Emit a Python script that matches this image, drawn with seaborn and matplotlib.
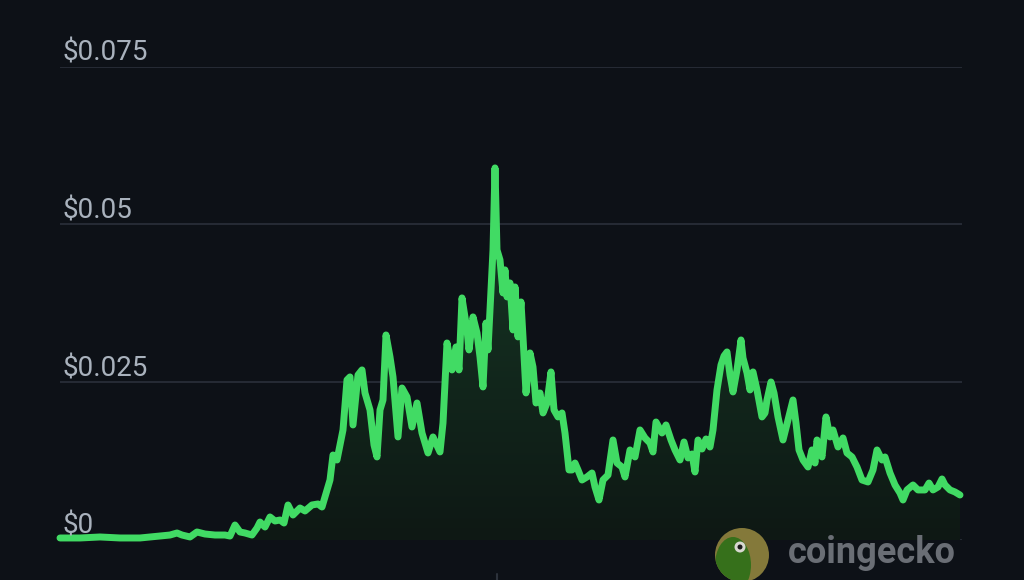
import numpy as np
import pandas as pd
import matplotlib
matplotlib.use("Agg")
import matplotlib.pyplot as plt
import seaborn as sns
from matplotlib.colors import LinearSegmentedColormap
from matplotlib.patches import Ellipse, Polygon
from matplotlib.lines import Line2D

# day index since listing, price in USD
days = [0, 40, 80, 120, 160, 180, 200, 220, 234, 244, 260, 274, 290, 310, 330, 340,
        350, 360, 370, 384, 394, 400, 410, 420, 430, 440, 448, 456, 466, 480, 490, 504,
        516, 524, 530, 540, 546, 554, 560, 566, 574, 580, 586, 596, 604, 610, 620, 628,
        634, 640, 646, 652, 660, 666, 676, 684, 694, 704, 714, 724, 736, 746, 760, 766,
        774, 784, 792, 798, 804, 814, 818, 826, 834, 840, 846, 852, 856, 862, 866, 870,
        874, 880, 886, 890, 894, 900, 906, 910, 916, 922, 926, 932, 940, 946, 952, 960,
        966, 974, 982, 988, 996, 1004, 1010, 1018, 1024, 1030, 1036, 1044, 1054, 1064,
        1070, 1078, 1086, 1096, 1106, 1114, 1124, 1130, 1140, 1150, 1160, 1170, 1180,
        1186, 1192, 1204, 1212, 1222, 1230, 1240, 1248, 1256, 1264, 1270, 1276, 1284,
        1292, 1300, 1306, 1314, 1322, 1328, 1334, 1340, 1346, 1354, 1362, 1366, 1374,
        1380, 1386, 1394, 1404, 1410, 1414, 1422, 1428, 1436, 1446, 1456, 1466, 1472,
        1478, 1486, 1496, 1504, 1510, 1514, 1524, 1532, 1540, 1546, 1556, 1566, 1574,
        1584, 1594, 1604, 1616, 1626, 1634, 1644, 1650, 1660, 1670, 1680, 1686, 1694,
        1706, 1716, 1730, 1738, 1746, 1756, 1764, 1770, 1780, 1790, 1800]

prices = [0.00032, 0.00032, 0.00048, 0.00032, 0.00032, 0.00048, 0.00063, 0.00079,
          0.00111, 0.00079, 0.00048, 0.00127, 0.00095, 0.00079, 0.00079, 0.00063,
          0.00238, 0.00127, 0.00111, 0.00079, 0.00190, 0.00285, 0.00206, 0.00365,
          0.00301, 0.00317, 0.00269, 0.00555, 0.00396, 0.00507, 0.00460, 0.00555,
          0.00571, 0.00523, 0.00682, 0.00951, 0.01347, 0.01268, 0.01506, 0.01744,
          0.02536, 0.02584, 0.01823, 0.02615, 0.02695, 0.02330, 0.02061, 0.01506,
          0.01316, 0.02061, 0.02219, 0.03249, 0.02901, 0.02584, 0.01633, 0.02409,
          0.02267, 0.01791, 0.02171, 0.01696, 0.01379, 0.01633, 0.01395, 0.01854,
          0.03122, 0.02695, 0.03059, 0.02695, 0.03836, 0.03329, 0.03012, 0.03535,
          0.03281, 0.02901, 0.02425, 0.03439, 0.03012, 0.03963, 0.04597, 0.05896,
          0.04597, 0.04438, 0.03915, 0.04280, 0.03852, 0.04073, 0.03329, 0.04010,
          0.03218, 0.03772, 0.03218, 0.02330, 0.02964, 0.02742, 0.02171, 0.02330,
          0.02013, 0.02171, 0.02663, 0.02061, 0.01950, 0.02013, 0.01696, 0.01110,
          0.01110, 0.01220, 0.01110, 0.00951, 0.00999, 0.01062, 0.00840, 0.00634,
          0.00951, 0.01030, 0.01585, 0.01220, 0.01157, 0.00999, 0.01427, 0.01316,
          0.01744, 0.01617, 0.01537, 0.01395, 0.01870, 0.01696, 0.01823, 0.01585,
          0.01427, 0.01268, 0.01553, 0.01300, 0.01363, 0.01078, 0.01585, 0.01442,
          0.01601, 0.01474, 0.01744, 0.02378, 0.02774, 0.02916, 0.02980, 0.02615,
          0.02346, 0.02695, 0.03170, 0.02885, 0.02647, 0.02378, 0.02663, 0.02378,
          0.01950, 0.02013, 0.02219, 0.02504, 0.02330, 0.01950, 0.01585, 0.01902,
          0.02219, 0.01854, 0.01427, 0.01268, 0.01157, 0.01427, 0.01220, 0.01585,
          0.01316, 0.01950, 0.01633, 0.01744, 0.01474, 0.01617, 0.01379, 0.01316,
          0.01157, 0.00951, 0.00919, 0.01110, 0.01427, 0.01268, 0.01316, 0.01062,
          0.00872, 0.00745, 0.00634, 0.00793, 0.00872, 0.00793, 0.00793, 0.00903,
          0.00793, 0.00840, 0.00967, 0.00872, 0.00793, 0.00761, 0.00713]

y_ticks = [0, 0.025, 0.05, 0.075]
y_labels = ["$0", "$0.025", "$0.05", "$0.075"]

BG = "#0d1117"
GRID = "#262b35"
LINE = "#41db64"
LABEL = "#a9b2bd"

sns.set_theme(style="dark", rc={
    "figure.facecolor": BG,
    "axes.facecolor": BG,
    "savefig.facecolor": BG,
})
plt.rcParams["font.family"] = ["Roboto", "DejaVu Sans"]

df = pd.DataFrame({"day": days, "price": prices})

fig = plt.figure(figsize=(10.24, 5.8), dpi=100)
ax = fig.add_axes([60 / 1024, 40 / 580, 902 / 1024, 473.3 / 580])
ax.set_xlim(0, 1804)
ax.set_ylim(0, 0.075)

# soft green gradient under the curve
cmap = LinearSegmentedColormap.from_list("fade", ["#0e1814", "#173b27"])
grad = np.linspace(0, 1, 256).reshape(-1, 1)
img = ax.imshow(grad, extent=[0, 1804, 0, 0.06], origin="lower", aspect="auto",
                cmap=cmap, zorder=1)
verts = [(days[0], 0)] + list(zip(days, prices)) + [(days[-1], 0)]
clip = Polygon(verts, closed=True, transform=ax.transData, facecolor="none", edgecolor="none")
ax.add_patch(clip)
img.set_clip_path(clip)

sns.lineplot(data=df, x="day", y="price", color=LINE, lw=5, ax=ax, zorder=3,
             solid_joinstyle="round", solid_capstyle="round")
ax.get_lines()[0].set_clip_on(False)

ax.set_yticks(y_ticks)
ax.set_xticks([])
ax.set_yticklabels([])
ax.tick_params(length=0)
ax.grid(axis="y", color=GRID, lw=1.4)
ax.grid(axis="x", visible=False)
ax.set_axisbelow(True)
ax.set_xlabel("")
ax.set_ylabel("")
for s in ax.spines.values():
    s.set_visible(False)

for v, lab in zip(y_ticks, y_labels):
    ax.annotate(lab, xy=(0, v), xycoords=ax.get_yaxis_transform(),
                xytext=(3, 6), textcoords="offset pixels",
                ha="left", va="baseline", fontsize=20, color=LABEL, zorder=4)

# coingecko watermark
ring = Ellipse((742 / 1024, 1 - 555 / 580), 54 / 1024, 54 / 580,
               transform=fig.transFigure, facecolor="#84793a", edgecolor="none", zorder=5)
fig.add_artist(ring)
head = Ellipse((733 / 1024, 1 - 565 / 580), 36 / 1024, 56 / 580,
               transform=fig.transFigure, facecolor="#36701b", edgecolor="none", zorder=6)
fig.add_artist(head)
head.set_clip_path(ring)
fig.add_artist(Ellipse((740 / 1024, 1 - 547 / 580), 11 / 1024, 11 / 580,
                       transform=fig.transFigure, facecolor="#d8d8d0", edgecolor="none", zorder=7))
fig.add_artist(Ellipse((740 / 1024, 1 - 547 / 580), 5 / 1024, 5 / 580,
                       transform=fig.transFigure, facecolor="#1a1a1a", edgecolor="none", zorder=8))
fig.text(788 / 1024, (580 - 563) / 580, "coingecko", fontsize=26, fontweight="bold",
         color="#6a6e75", ha="left", va="baseline", zorder=9)

fig.add_artist(Line2D([497 / 1024] * 2, [0, 6 / 580], color="#2c323b", lw=1.5,
                      transform=fig.transFigure))

plt.savefig("out.png", dpi=100, facecolor=BG)
plt.close()
